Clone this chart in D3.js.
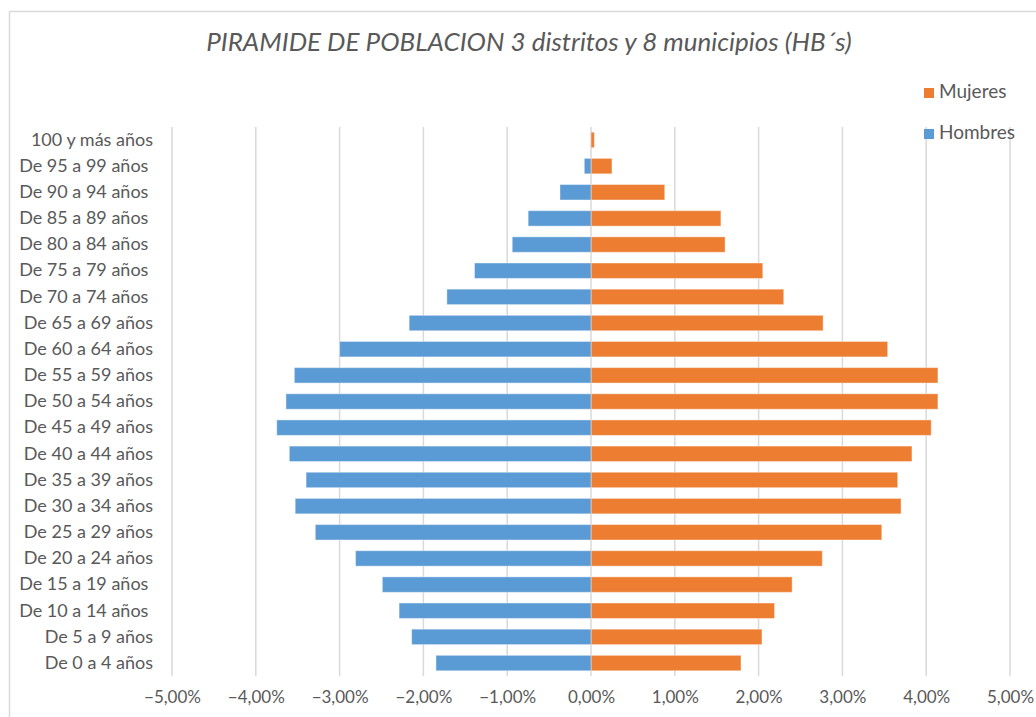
<!DOCTYPE html>
<html>
<head>
<meta charset="utf-8">
<script src="https://cdn.jsdelivr.net/npm/d3@7"></script>
<style>
  body { margin: 0; background: #fff; }
  text { font-family: Lato, "Open Sans", sans-serif; fill: #595959; }
</style>
</head>
<body>
<div id="piramide"></div>
<script>
// grupos de edad (de arriba a abajo), algunos con espacio final como en el Excel
var grupos = ["100 y más años", "De 95 a 99 años ", "De 90 a 94 años ", "De 85 a 89 años ",
  "De 80 a 84 años ", "De 75 a 79 años ", "De 70 a 74 años ", "De 65 a 69 años",
  "De 60 a 64 años", "De 55 a 59 años", "De 50 a 54 años", "De 45 a 49 años",
  "De 40 a 44 años", "De 35 a 39 años", "De 30 a 34 años", "De 25 a 29 años",
  "De 20 a 24 años", "De 15 a 19 años ", "De 10 a 14 años ", "De 5 a 9 años",
  "De 0 a 4 años"]

// porcentajes (en %)
var hombres = [0, -0.08, -0.37, -0.75, -0.94, -1.39, -1.72, -2.17, -3.00, -3.54, -3.64,
  -3.75, -3.60, -3.40, -3.53, -3.29, -2.81, -2.49, -2.29, -2.14, -1.85]
var mujeres = [0.04, 0.25, 0.88, 1.55, 1.60, 2.05, 2.30, 2.77, 3.54, 4.14, 4.14,
  4.06, 3.83, 3.66, 3.70, 3.47, 2.76, 2.40, 2.19, 2.04, 1.79]

var ticks = [-5, -4, -3, -2, -1, 0, 1, 2, 3, 4, 5]
var series = ["Mujeres", "Hombres"]
var colores = {"Mujeres": "#ED7D31", "Hombres": "#5B9BD5"}

var W = 1036, H = 717

var svg = d3.select("#piramide")
  .append("svg")
    .attr("width", W)
    .attr("height", H)

// marco del grafico
svg.append("rect")
  .attr("x", 9.5).attr("y", 11.5)
  .attr("width", W + 20).attr("height", H + 20)
  .attr("fill", "none").attr("stroke", "#D9D9D9").attr("stroke-width", 1.5)

var x = d3.scaleLinear()
  .domain([-5, 5])
  .range([172, 1010])

var y = d3.scaleBand()
  .domain(grupos)
  .range([127, 676])
  .paddingInner(0.41)
  .paddingOuter(0.2)

// lineas de division
svg.append("g")
  .selectAll("line")
  .data(ticks)
  .enter().append("line")
    .attr("x1", function(d) { return x(d) })
    .attr("x2", function(d) { return x(d) })
    .attr("y1", 127)
    .attr("y2", 676)
    .attr("stroke", "#D9D9D9")
    .attr("stroke-width", 1.5)

// eje X
var ejeX = svg.append("g")
  .attr("transform", "translate(0,676)")
  .call(d3.axisBottom(x).tickValues(ticks).tickSize(0).tickPadding(15)
    .tickFormat(function(d) { return d3.format(".2f")(d).replace(".", ",") + "%" }))
ejeX.select(".domain").remove()
ejeX.selectAll("text")
  .style("font-size", "17px")
  .style("font-family", "Lato, sans-serif")
  .attr("fill", "#595959")

// eje Y (etiquetas)
var ejeY = svg.append("g")
  .attr("transform", "translate(153,0)")
  .call(d3.axisLeft(y).tickSize(0).tickPadding(0))
ejeY.select(".domain").remove()
ejeY.selectAll("text")
  .style("font-size", "18px")
  .style("font-family", "Lato, sans-serif")
  .style("white-space", "pre")
  .attr("fill", "#595959")

// barras
var datos = grupos.map(function(g, i) {
  return {grupo: g, Hombres: hombres[i], Mujeres: mujeres[i]}
})

series.forEach(function(s) {
  svg.append("g")
    .attr("fill", colores[s])
    .selectAll("rect")
    .data(datos)
    .enter().append("rect")
      .attr("x", function(d) { return Math.min(x(0), x(d[s])) })
      .attr("y", function(d) { return y(d.grupo) })
      .attr("width", function(d) { return Math.abs(x(d[s]) - x(0)) })
      .attr("height", y.bandwidth())
      .attr("stroke", "#fff")
      .attr("stroke-opacity", 0.4)
      .attr("stroke-width", 1)
})

// titulo
svg.append("text")
  .attr("x", 529)
  .attr("y", 51)
  .attr("text-anchor", "middle")
  .style("font-size", "26px")
  .style("font-style", "italic")
  .text("PIRAMIDE DE POBLACION 3 distritos y 8 municipios (HB´s)")

// leyenda
series.forEach(function(s, i) {
  svg.append("rect")
    .attr("x", 924).attr("y", 88 + i * 41)
    .attr("width", 10).attr("height", 10)
    .attr("fill", colores[s])
  svg.append("text")
    .attr("x", 939).attr("y", 93 + i * 41)
    .attr("dominant-baseline", "middle")
    .style("font-size", "19px")
    .text(s)
})
</script>
</body>
</html>
